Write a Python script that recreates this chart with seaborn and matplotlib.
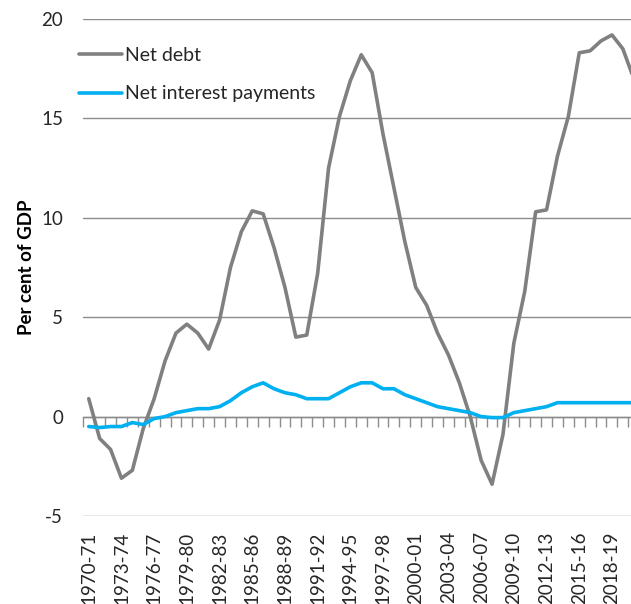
import matplotlib
matplotlib.use("Agg")
import matplotlib.pyplot as plt
import seaborn as sns
import pandas as pd

# Financial years 1970-71 to 2020-21
periods = [f"{y}-{str(y + 1)[-2:]}" for y in range(1970, 2021)]

net_debt = [0.9, -1.1, -1.65, -3.1, -2.7, -0.6, 0.9, 2.8, 4.2, 4.65,
            4.2, 3.4, 4.85, 7.5, 9.3, 10.35, 10.2, 8.5, 6.5, 4.0,
            4.1, 7.2, 12.5, 15.1, 16.9, 18.2, 17.3, 14.2, 11.5, 8.8,
            6.5, 5.6, 4.2, 3.1, 1.7, 0.0, -2.2, -3.4, -0.9, 3.7,
            6.3, 10.3, 10.4, 13.1, 15.1, 18.3, 18.4, 18.9, 19.2, 18.5,
            17.0]

net_interest = [-0.5, -0.55, -0.5, -0.5, -0.3, -0.4, -0.1, 0.0, 0.2, 0.3,
                0.4, 0.4, 0.5, 0.8, 1.2, 1.5, 1.7, 1.4, 1.2, 1.1,
                0.9, 0.9, 0.9, 1.2, 1.5, 1.7, 1.7, 1.4, 1.4, 1.1,
                0.9, 0.7, 0.5, 0.4, 0.3, 0.2, 0.0, -0.05, -0.05, 0.2,
                0.3, 0.4, 0.5, 0.7, 0.7, 0.7, 0.7, 0.7, 0.7, 0.7,
                0.7]

series_names = ["Net debt", "Net interest payments"]
series_colors = ["#808080", "#00B0F0"]
y_ticks = [-5, 0, 5, 10, 15, 20]

sns.set_theme(style="white")
plt.rcParams["font.family"] = ["Lato", "DejaVu Sans"]

idx = list(range(len(periods)))
df = pd.DataFrame({
    "pos": idx * 2,
    "value": net_debt + net_interest,
    "series": [series_names[0]] * len(idx) + [series_names[1]] * len(idx),
})

fig = plt.figure(figsize=(6.31, 6.04), dpi=100)
n = len(periods)
ax = fig.add_axes([83.3 / 631, 88 / 604, n * 10.9 / 631, 497 / 604])

sns.lineplot(data=df, x="pos", y="value", hue="series",
             palette=dict(zip(series_names, series_colors)),
             linewidth=2.6, ax=ax, legend=True)

ax.set_xlim(-0.5, n - 0.5)
ax.set_ylim(-5, 20)
ax.set_yticks(y_ticks)
ax.set_yticklabels([str(t) for t in y_ticks])
ax.yaxis.grid(True, color="#8C8C8C", linewidth=1.0)
ax.set_axisbelow(True)
for s in ax.spines.values():
    s.set_visible(False)

label_pos = idx[::3]
ax.set_xticks(label_pos)
ax.set_xticklabels([periods[i] for i in label_pos], rotation=90)
ax.tick_params(axis="x", length=0, pad=11, labelsize=13.5, labelcolor="#262626")
ax.tick_params(axis="y", length=0, pad=14.5, labelsize=13.5, labelcolor="#262626")

ax.set_xlabel("")
ax.set_ylabel("Per cent of GDP", fontsize=13.5, fontweight="bold",
              color="#000000")
ax.yaxis.set_label_coords((35 - 83.3) / (n * 10.9), 0.5)

# category axis drawn at the zero line with tick marks between categories
zero_frac = (0 - (-5)) / 25
sec = ax.secondary_xaxis(zero_frac)
sec.set_xticks([i - 0.5 for i in range(n + 1)])
sec.tick_params(axis="x", direction="out", length=7, width=1,
                color="#8C8C8C", labelbottom=False, labeltop=False)
sec.spines["bottom"].set_color("#8C8C8C")
sec.spines["bottom"].set_linewidth(1.0)

handles, labels = ax.get_legend_handles_labels()
ax.legend(handles, labels, loc="upper left", frameon=False,
          bbox_to_anchor=(79 / 631, 1 - 47 / 604), bbox_transform=fig.transFigure,
          fontsize=14, handlelength=2.2, handletextpad=0.15,
          labelspacing=1.1, borderpad=0, borderaxespad=0)

fig.savefig("out.png", dpi=100)
